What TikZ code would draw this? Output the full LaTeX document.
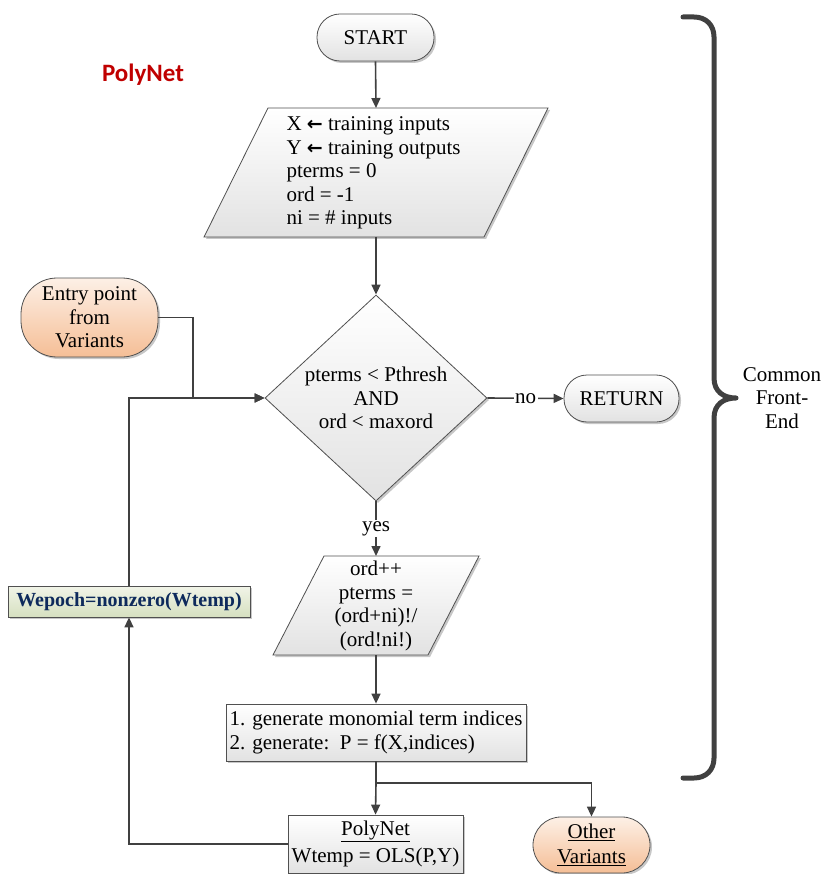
\documentclass[tikz,border=0pt]{standalone}
\usepackage{fontspec}
\setmainfont{Liberation Serif}
\newfontfamily\calib{Carlito}
\newfontfamily\symf{DejaVu Sans}
\usetikzlibrary{arrows.meta,shapes.geometric,shadows,calc}
\definecolor{linec}{HTML}{404040}
\definecolor{bordc}{HTML}{505050}
\definecolor{grayb}{HTML}{E2E2E2}
\definecolor{orat}{HTML}{FDF0E6}
\definecolor{orab}{HTML}{F5BE96}
\definecolor{grnt}{HTML}{F1F4E8}
\definecolor{grnb}{HTML}{D6E0C0}
\definecolor{navyc}{HTML}{0E2A5C}
\definecolor{titler}{HTML}{C00000}
\newcommand{\larr}{{\symf\bfseries\fontsize{19}{15}\selectfont ←}}
\newcommand{\ulx}[1]{\leavevmode\vtop{\hbox{#1}\kern1pt\hrule height0.8pt}}
\begin{document}
\begin{tikzpicture}[x=1pt,y=-1pt,
  txt/.style={font=\fontsize{21}{23.5}\selectfont},
  shad/.style={drop shadow={shadow xshift=2pt,shadow yshift=-2pt,fill=black,opacity=0.22}},
  box/.style={draw=bordc, line width=0.8pt, top color=white, bottom color=grayb, shad, inner sep=0pt, txt},
  orbox/.style={box, top color=orat, bottom color=orab},
  grbox/.style={box, top color=grnt, bottom color=grnb},
  anchorbox/.style={inner sep=0pt, outer sep=0pt},
  arr/.style={draw=linec, line width=1.6pt, -{Triangle[length=10pt,width=9pt]}},
  ln/.style={draw=linec, line width=1.6pt},
  lbl/.style={txt, fill=white, inner sep=1.5pt}]
\useasboundingbox (0,0) rectangle (820,874);

% title
\node[font=\calib\bfseries\fontsize{25}{30}\selectfont, text=titler] (title) at (143,75) {PolyNet};

% start
\node[box, rounded corners=23pt, minimum width=117pt, minimum height=47pt] (start) at (375.5,37.5) {START};

% parallelogram 1
\node[anchorbox, minimum width=344pt, minimum height=129pt] (p1) at (376,172.5) {};
\path[draw=bordc, line width=0.8pt, top color=white, bottom color=grayb, shad]
  ($(p1.north west)+(64,0)$) -- (p1.north east) -- ($(p1.south east)+(-64,0)$) -- (p1.south west) -- cycle;
\node[txt, align=left, anchor=west] (p1t) at (283,173)
  {X \larr{} training inputs\\Y \larr{} training outputs\\pterms = 0\\ord = -1\\ni = \# inputs};

% decision
\node[box, diamond, minimum width=222pt, minimum height=206pt] (dec) at (376,398) {};
\node[txt, align=center] (dect) at (dec) {pterms < Pthresh\\AND\\ord < maxord};

% return
\node[box, rounded corners=23pt, minimum width=115pt, minimum height=47pt] (ret) at (621.5,398.5) {RETURN};

% entry point
\node[orbox, rounded corners=36pt, minimum width=137pt, minimum height=79pt, align=center] (entry) at (89.5,317.5) {Entry point\\from\\Variants};

% parallelogram 2
\node[anchorbox, minimum width=206pt, minimum height=99pt] (p2) at (376,605.5) {};
\path[draw=bordc, line width=0.8pt, top color=white, bottom color=grayb, shad]
  ($(p2.north west)+(51,0)$) -- (p2.north east) -- ($(p2.south east)+(-51,0)$) -- (p2.south west) -- cycle;
\node[txt, align=center] (p2t) at (376,606) {ord++\\pterms =\\(ord+ni)!/\\(ord!ni!)};

% generate box
\node[box, align=left, minimum width=300pt, minimum height=57pt] (gen) at (376,732.5)
  {1. generate monomial term indices\\2. generate:~~P = f(X,indices)};

% polynet box
\node[box, align=center, minimum width=175pt, minimum height=58pt] (pn) at (375.5,844)
  {\ulx{PolyNet}\\[3pt]Wtemp = OLS(P,Y)};

% other variants
\node[orbox, rounded corners=28pt, minimum width=117pt, minimum height=56pt, align=center] (ov) at (591.5,845)
  {\ulx{Other}\\[1pt]\ulx{Variants}};

% wepoch
\node[grbox, minimum width=242pt, minimum height=31pt, font=\bfseries\fontsize{20}{24}\selectfont, text=navyc] (wep) at (129,601.5) {Wepoch=nonzero(Wtemp)};

% connectors
\coordinate (j1) at (193,398);
\coordinate (br) at (376,783);
\draw[arr] (start.south) -- (p1.north);
\draw[arr] (p1.south) -- (dec.north);
\draw[arr] (dec.east) -- node[lbl] {no} (ret.west);
\draw[arr] (dec.south) -- node[lbl] {yes} (p2.north);
\draw[arr] (p2.south) -- (gen.north);
\draw[ln] (gen.south) -- (br);
\draw[arr] (br) -- (pn.north);
\draw[arr] (br) -| (ov.north);
\draw[arr] (pn.west) -| (wep.south);
\draw[arr] (wep.north) |- (dec.west);
\draw[arr] (entry.east) -| (j1) -- (dec.west);

% brace
\draw[linec, line width=5pt, line cap=round, line join=round]
  (683,17) -- (694,17) .. controls (706,17) and (714,25) .. (714,37) -- (714,378)
  .. controls (714,392) and (724,398) .. (736,398)
  .. controls (724,398) and (714,404) .. (714,418) -- (714,758)
  .. controls (714,770) and (706,778) .. (694,778) -- (683,778);
\node[txt, align=center] (cfe) at (782,398) {Common\\Front-\\End};
\end{tikzpicture}
\end{document}
